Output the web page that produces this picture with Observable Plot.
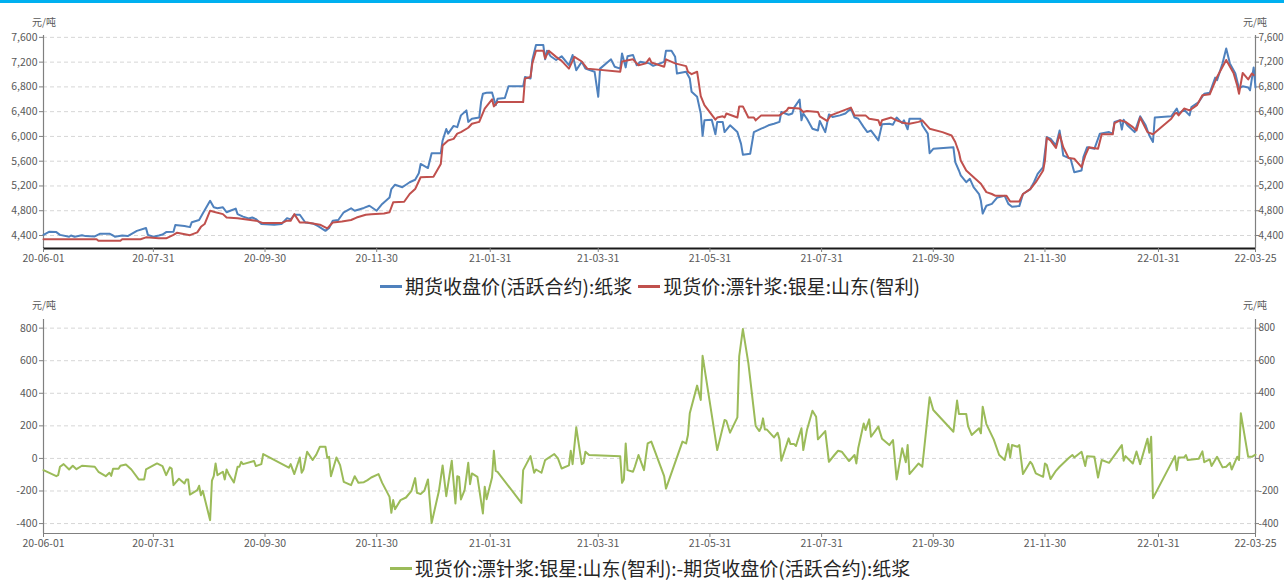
<!DOCTYPE html>
<html><head><meta charset="utf-8">
<script src="https://cdn.jsdelivr.net/npm/d3@7"></script>
<script src="https://cdn.jsdelivr.net/npm/@observablehq/plot@0.6"></script>
<style>
html,body{margin:0;padding:0;background:#fff;overflow:hidden;}
#root{position:relative;width:1284px;height:581px;overflow:hidden;font-family:"Noto Sans CJK SC","Noto Sans",sans-serif;}
.bar{position:absolute;left:0;top:0;width:1284px;height:3px;background:#00b0f0;}
.unit{position:absolute;font-size:10px;line-height:12px;color:#595959;}
.legend{position:absolute;left:0;width:1300px;height:22px;line-height:22px;display:flex;justify-content:center;align-items:center;font-size:19px;color:#262626;white-space:nowrap;}
.item{display:flex;align-items:center;margin:0 3px;}
.sw{display:inline-block;width:22px;height:3px;margin-right:3px;}
#top,#bottom{position:absolute;left:0;}
#top{top:0;} #bottom{top:290px;}
</style></head><body>
<div id="root">
  <div class="bar"></div>
  <div class="unit" style="left:32px;top:16px;">元/吨</div>
  <div class="unit" style="left:1243px;top:16px;">元/吨</div>
  <div id="top"></div>
  <div class="legend" id="legTop" style="top:275px;"></div>
  <div class="unit" style="left:32px;top:299px;">元/吨</div>
  <div class="unit" style="left:1243px;top:299px;">元/吨</div>
  <div id="bottom"></div>
  <div class="legend" id="legBottom" style="top:557px;"></div>
</div>
<script>
// ---------- data ----------
const seriesNames = ["期货收盘价(活跃合约):纸浆", "现货价:漂针浆:银星:山东(智利)", "现货价:漂针浆:银星:山东(智利):-期货收盘价(活跃合约):纸浆"];
const seriesColors = ["#4f81bd", "#c0504d", "#9bbb59"];
const xTickDates = ["2020-06-01","2020-07-31","2020-09-30","2020-11-30","2021-01-31","2021-03-31","2021-05-31","2021-07-31","2021-09-30","2021-11-30","2022-01-31","2022-03-25"];
const topYTicks = [4400,4800,5200,5600,6000,6400,6800,7200,7600];
const bottomYTicks = [-400,-200,0,200,400,600,800];
const topYDomain = [4190, 7630];
const bottomYDomain = [-461, 853];

const futDates = ["2020-06-01","2020-06-04","2020-06-08","2020-06-10","2020-06-15","2020-06-16","2020-06-18","2020-06-22","2020-06-24","2020-06-29","2020-07-02","2020-07-07","2020-07-09","2020-07-10","2020-07-14","2020-07-17","2020-07-22","2020-07-27","2020-07-28","2020-07-31","2020-08-03","2020-08-05","2020-08-07","2020-08-11","2020-08-12","2020-08-17","2020-08-20","2020-08-21","2020-08-25","2020-08-27","2020-08-31","2020-09-02","2020-09-04","2020-09-07","2020-09-09","2020-09-11","2020-09-14","2020-09-15","2020-09-18","2020-09-21","2020-09-23","2020-09-25","2020-09-28","2020-10-05","2020-10-09","2020-10-12","2020-10-14","2020-10-16","2020-10-19","2020-10-22","2020-10-26","2020-10-29","2020-11-02","2020-11-04","2020-11-06","2020-11-09","2020-11-12","2020-11-16","2020-11-18","2020-11-23","2020-11-26","2020-11-30","2020-12-03","2020-12-07","2020-12-08","2020-12-10","2020-12-14","2020-12-16","2020-12-18","2020-12-21","2020-12-23","2020-12-24","2020-12-28","2020-12-30","2021-01-04","2021-01-05","2021-01-07","2021-01-08","2021-01-11","2021-01-13","2021-01-15","2021-01-18","2021-01-19","2021-01-21","2021-01-25","2021-01-26","2021-01-27","2021-01-29","2021-02-01","2021-02-03","2021-02-04","2021-02-08","2021-02-10","2021-02-18","2021-02-19","2021-02-22","2021-02-23","2021-02-25","2021-03-01","2021-03-02","2021-03-03","2021-03-05","2021-03-08","2021-03-11","2021-03-15","2021-03-17","2021-03-19","2021-03-22","2021-03-24","2021-03-29","2021-03-31","2021-04-01","2021-04-07","2021-04-09","2021-04-12","2021-04-13","2021-04-15","2021-04-16","2021-04-19","2021-04-21","2021-04-23","2021-04-28","2021-04-30","2021-05-06","2021-05-07","2021-05-10","2021-05-12","2021-05-13","2021-05-18","2021-05-20","2021-05-21","2021-05-24","2021-05-26","2021-05-27","2021-05-28","2021-06-01","2021-06-03","2021-06-04","2021-06-07","2021-06-08","2021-06-11","2021-06-15","2021-06-17","2021-06-18","2021-06-22","2021-06-24","2021-06-28","2021-06-30","2021-07-02","2021-07-05","2021-07-08","2021-07-09","2021-07-13","2021-07-15","2021-07-16","2021-07-19","2021-07-20","2021-07-21","2021-07-23","2021-07-26","2021-07-29","2021-07-30","2021-08-02","2021-08-04","2021-08-06","2021-08-10","2021-08-13","2021-08-16","2021-08-18","2021-08-20","2021-08-23","2021-08-25","2021-08-27","2021-08-31","2021-09-02","2021-09-06","2021-09-08","2021-09-10","2021-09-13","2021-09-14","2021-09-16","2021-09-17","2021-09-23","2021-09-24","2021-09-27","2021-09-28","2021-09-30","2021-10-11","2021-10-12","2021-10-14","2021-10-15","2021-10-18","2021-10-20","2021-10-22","2021-10-25","2021-10-26","2021-10-27","2021-10-29","2021-11-01","2021-11-04","2021-11-08","2021-11-10","2021-11-12","2021-11-16","2021-11-18","2021-11-22","2021-11-24","2021-11-26","2021-11-29","2021-12-01","2021-12-03","2021-12-06","2021-12-08","2021-12-09","2021-12-10","2021-12-14","2021-12-16","2021-12-20","2021-12-21","2021-12-23","2021-12-27","2021-12-30","2022-01-04","2022-01-06","2022-01-07","2022-01-10","2022-01-11","2022-01-12","2022-01-14","2022-01-18","2022-01-21","2022-01-24","2022-01-26","2022-01-28","2022-01-29","2022-02-07","2022-02-10","2022-02-11","2022-02-14","2022-02-17","2022-02-18","2022-02-22","2022-02-25","2022-02-28","2022-03-03","2022-03-04","2022-03-07","2022-03-09","2022-03-11","2022-03-14","2022-03-16","2022-03-18","2022-03-21","2022-03-22","2022-03-24","2022-03-25"];
const futValues = [4410,4460,4455,4410,4380,4400,4380,4405,4390,4385,4430,4430,4400,4380,4400,4390,4475,4520,4410,4380,4400,4415,4455,4460,4570,4555,4535,4615,4650,4755,4960,4855,4840,4855,4775,4800,4835,4745,4705,4675,4690,4665,4585,4575,4585,4680,4660,4735,4735,4610,4595,4550,4475,4520,4640,4650,4775,4840,4800,4845,4880,4800,4910,5015,5150,5220,5180,5220,5260,5300,5405,5555,5490,5730,5730,5935,6120,6045,6170,6150,6340,6420,6235,6285,6305,6555,6690,6705,6710,6505,6610,6620,6810,6810,6960,6935,7235,7475,7475,7245,7385,7295,7235,7295,7150,7315,7070,7205,7095,7045,6640,7095,7245,7125,7095,7340,7115,7295,7315,7150,7205,7180,7140,7205,7385,7385,7285,7015,7045,6935,6720,6640,6370,6010,6260,6270,6035,6235,6235,6070,6180,6070,5880,5705,5720,6070,6125,6150,6180,6205,6235,6395,6350,6370,6465,6595,6260,6370,6285,6125,6095,6250,6070,6355,6315,6340,6370,6450,6305,6285,6150,6070,6095,5935,6195,6205,6190,6305,6215,6260,6115,6285,6285,6180,6045,5730,5800,5825,5585,5450,5370,5260,5315,5180,5070,4960,4755,4880,4910,5015,5040,4910,4865,4875,5070,5150,5260,5395,5505,5990,5965,5855,6095,5910,5690,5640,5420,5450,5665,5825,5800,6045,6070,6045,6235,6260,6110,6270,6180,6070,6325,6180,6015,5910,6305,6325,6450,6370,6430,6340,6475,6555,6690,6705,6950,6910,7180,7420,7180,7015,6775,6810,6790,6745,7115,6790];

const spotDates = ["2020-06-01","2020-06-30","2020-07-01","2020-07-13","2020-07-14","2020-07-24","2020-07-27","2020-08-03","2020-08-07","2020-08-11","2020-08-13","2020-08-20","2020-08-24","2020-08-26","2020-08-28","2020-08-31","2020-09-03","2020-09-07","2020-09-09","2020-09-15","2020-09-25","2020-09-29","2020-10-09","2020-10-12","2020-10-14","2020-10-16","2020-10-19","2020-10-23","2020-10-30","2020-11-03","2020-11-06","2020-11-11","2020-11-16","2020-11-19","2020-11-24","2020-11-27","2020-12-04","2020-12-07","2020-12-09","2020-12-15","2020-12-18","2020-12-21","2020-12-24","2020-12-31","2021-01-04","2021-01-05","2021-01-08","2021-01-11","2021-01-13","2021-01-15","2021-01-19","2021-01-21","2021-01-25","2021-01-28","2021-02-01","2021-02-02","2021-02-04","2021-02-18","2021-02-19","2021-02-22","2021-02-23","2021-02-25","2021-03-01","2021-03-02","2021-03-04","2021-03-08","2021-03-11","2021-03-15","2021-03-18","2021-03-22","2021-03-25","2021-04-12","2021-04-13","2021-04-19","2021-04-22","2021-04-26","2021-04-28","2021-04-29","2021-05-06","2021-05-07","2021-05-12","2021-05-18","2021-05-19","2021-05-21","2021-05-24","2021-05-26","2021-05-28","2021-06-03","2021-06-04","2021-06-07","2021-06-08","2021-06-09","2021-06-15","2021-06-16","2021-06-18","2021-06-21","2021-06-24","2021-06-25","2021-06-28","2021-07-08","2021-07-12","2021-07-13","2021-07-19","2021-07-21","2021-07-23","2021-07-29","2021-07-30","2021-08-03","2021-08-05","2021-08-16","2021-08-18","2021-08-24","2021-08-26","2021-08-31","2021-09-01","2021-09-02","2021-09-07","2021-09-10","2021-09-14","2021-09-17","2021-09-22","2021-09-24","2021-09-28","2021-10-05","2021-10-10","2021-10-12","2021-10-14","2021-10-15","2021-10-18","2021-10-21","2021-10-26","2021-10-29","2021-11-01","2021-11-03","2021-11-09","2021-11-11","2021-11-16","2021-11-18","2021-11-22","2021-11-25","2021-11-29","2021-11-30","2021-12-01","2021-12-03","2021-12-06","2021-12-08","2021-12-10","2021-12-13","2021-12-16","2021-12-20","2021-12-22","2021-12-24","2021-12-29","2021-12-31","2022-01-06","2022-01-07","2022-01-10","2022-01-13","2022-01-17","2022-01-19","2022-01-21","2022-01-25","2022-01-28","2022-02-07","2022-02-09","2022-02-10","2022-02-11","2022-02-14","2022-02-17","2022-02-21","2022-02-24","2022-02-28","2022-03-04","2022-03-09","2022-03-13","2022-03-15","2022-03-16","2022-03-18","2022-03-21","2022-03-23","2022-03-24"];
const spotValues = [4340,4340,4315,4315,4340,4340,4370,4355,4355,4410,4445,4405,4450,4540,4585,4800,4775,4745,4690,4680,4640,4600,4600,4640,4640,4745,4610,4610,4575,4515,4610,4625,4650,4690,4735,4745,4755,4775,4935,4945,5070,5150,5340,5350,5555,5855,5935,5960,6045,6070,6140,6205,6235,6450,6600,6485,6555,6555,6935,6960,7180,7385,7385,7260,7385,7285,7220,7095,7285,7210,7095,7045,7210,7245,7150,7180,7260,7195,7125,7245,7180,7135,7045,7005,7045,6650,6505,6270,6305,6325,6305,6370,6305,6485,6485,6305,6305,6260,6340,6340,6420,6465,6450,6395,6410,6395,6325,6250,6340,6465,6340,6340,6285,6260,6180,6260,6305,6260,6215,6205,6235,6260,6125,6070,6015,5910,5745,5610,5450,5370,5235,5100,5070,5040,5040,4950,4950,5070,5150,5260,5450,5610,5980,5935,5815,6035,5825,5650,5640,5505,5690,5825,5800,6035,6035,6215,6260,6235,6150,6095,6305,6070,6035,6285,6370,6380,6340,6450,6420,6505,6665,6680,6960,7235,7025,6825,6690,7025,6920,7015,6990];

const spreadDates = ["2020-06-01","2020-06-08","2020-06-09","2020-06-10","2020-06-12","2020-06-15","2020-06-17","2020-06-19","2020-06-22","2020-06-29","2020-07-01","2020-07-05","2020-07-07","2020-07-08","2020-07-09","2020-07-12","2020-07-13","2020-07-16","2020-07-19","2020-07-23","2020-07-26","2020-07-27","2020-08-02","2020-08-05","2020-08-07","2020-08-09","2020-08-10","2020-08-11","2020-08-14","2020-08-17","2020-08-18","2020-08-19","2020-08-20","2020-08-24","2020-08-25","2020-08-26","2020-08-27","2020-08-31","2020-09-01","2020-09-02","2020-09-03","2020-09-04","2020-09-07","2020-09-08","2020-09-09","2020-09-10","2020-09-13","2020-09-15","2020-09-16","2020-09-17","2020-09-18","2020-09-24","2020-09-25","2020-09-28","2020-09-29","2020-10-13","2020-10-14","2020-10-16","2020-10-19","2020-10-20","2020-10-21","2020-10-23","2020-10-26","2020-10-28","2020-10-30","2020-11-02","2020-11-03","2020-11-04","2020-11-05","2020-11-08","2020-11-10","2020-11-12","2020-11-16","2020-11-18","2020-11-20","2020-11-23","2020-11-25","2020-11-27","2020-12-01","2020-12-03","2020-12-07","2020-12-08","2020-12-09","2020-12-10","2020-12-13","2020-12-16","2020-12-19","2020-12-21","2020-12-22","2020-12-24","2020-12-26","2020-12-28","2020-12-30","2021-01-03","2021-01-05","2021-01-07","2021-01-10","2021-01-12","2021-01-13","2021-01-14","2021-01-15","2021-01-17","2021-01-19","2021-01-20","2021-01-21","2021-01-24","2021-01-27","2021-01-28","2021-01-29","2021-02-01","2021-02-02","2021-02-03","2021-02-04","2021-02-17","2021-02-18","2021-02-22","2021-02-24","2021-02-25","2021-02-28","2021-03-02","2021-03-07","2021-03-09","2021-03-11","2021-03-15","2021-03-16","2021-03-17","2021-03-19","2021-03-22","2021-03-23","2021-03-24","2021-03-26","2021-04-12","2021-04-13","2021-04-14","2021-04-15","2021-04-16","2021-04-19","2021-04-20","2021-04-22","2021-04-24","2021-04-25","2021-04-27","2021-04-29","2021-05-06","2021-05-07","2021-05-16","2021-05-18","2021-05-19","2021-05-20","2021-05-24","2021-05-26","2021-05-27","2021-06-04","2021-06-08","2021-06-09","2021-06-11","2021-06-15","2021-06-16","2021-06-18","2021-06-21","2021-06-25","2021-06-27","2021-06-28","2021-06-29","2021-06-30","2021-07-01","2021-07-05","2021-07-07","2021-07-08","2021-07-09","2021-07-13","2021-07-14","2021-07-16","2021-07-17","2021-07-20","2021-07-21","2021-07-23","2021-07-26","2021-07-28","2021-07-29","2021-08-02","2021-08-04","2021-08-07","2021-08-09","2021-08-11","2021-08-15","2021-08-18","2021-08-19","2021-08-20","2021-08-23","2021-08-24","2021-08-26","2021-08-27","2021-08-31","2021-09-02","2021-09-06","2021-09-08","2021-09-10","2021-09-13","2021-09-15","2021-09-16","2021-09-17","2021-09-22","2021-09-24","2021-09-28","2021-09-30","2021-10-11","2021-10-13","2021-10-14","2021-10-18","2021-10-19","2021-10-21","2021-10-25","2021-10-26","2021-10-27","2021-10-29","2021-11-02","2021-11-05","2021-11-08","2021-11-10","2021-11-11","2021-11-12","2021-11-15","2021-11-16","2021-11-18","2021-11-22","2021-11-23","2021-11-25","2021-11-29","2021-11-30","2021-12-01","2021-12-03","2021-12-06","2021-12-08","2021-12-13","2021-12-15","2021-12-16","2021-12-20","2021-12-22","2021-12-23","2021-12-27","2021-12-29","2021-12-31","2022-01-04","2022-01-11","2022-01-12","2022-01-13","2022-01-17","2022-01-19","2022-01-21","2022-01-25","2022-01-26","2022-01-27","2022-01-28","2022-02-09","2022-02-10","2022-02-11","2022-02-14","2022-02-15","2022-02-16","2022-02-22","2022-02-24","2022-02-25","2022-02-28","2022-03-01","2022-03-04","2022-03-07","2022-03-09","2022-03-11","2022-03-12","2022-03-15","2022-03-16","2022-03-17","2022-03-21","2022-03-23","2022-03-25"];
const spreadValues = [-72,-109,-103,-51,-35,-68,-45,-66,-45,-51,-82,-109,-88,-107,-64,-64,-45,-37,-68,-129,-129,-68,-31,-47,-103,-55,-62,-164,-125,-154,-129,-129,-222,-195,-168,-226,-199,-379,-137,-109,-31,-103,-82,-129,-68,-92,-148,-51,-51,-21,-35,-16,-47,-35,27,-57,-35,-96,6,-88,-68,41,-10,23,72,72,4,10,-109,6,-41,-144,-164,-109,-150,-146,-133,-117,-96,-150,-236,-334,-256,-312,-256,-240,-199,-121,-211,-219,-199,-129,-396,-199,-43,-232,-14,-277,-109,-113,-252,-195,-27,-158,-92,-113,-338,-174,-250,-117,47,-76,-82,-273,-72,14,-88,-68,-88,-10,27,0,-62,-43,47,-35,191,-35,-27,41,21,14,-150,-129,92,-72,-82,-51,21,-41,-72,92,103,-109,-185,103,92,144,277,447,359,630,51,236,230,158,252,626,794,585,199,168,191,246,178,178,129,158,117,-14,123,88,88,76,185,51,174,293,256,117,168,-21,21,47,41,-16,21,-31,62,215,174,240,133,195,121,82,113,-129,62,-23,82,-96,-31,-51,375,297,164,355,273,273,199,144,185,154,318,211,117,21,-10,88,6,82,72,82,-96,-21,-35,-92,-113,-31,-41,-127,-76,-51,2,21,6,41,-47,14,10,-117,-10,-27,82,-14,14,-31,43,-35,121,35,133,-244,14,-72,6,6,21,-10,-2,43,-23,-6,-47,10,-55,-51,-27,-68,10,-10,277,10,10,23];

// ---------- drawing ----------
const parse = d3.utcParse("%Y-%m-%d");
const xDomain = [parse(xTickDates[0]), parse(xTickDates[xTickDates.length - 1])];
const xTicks = xTickDates.map(parse);
const toRows = (dates, values) => dates.map((d, i) => ({date: parse(d), value: values[i]}));
const fut = toRows(futDates, futValues);
const spot = toRows(spotDates, spotValues);
const spread = toRows(spreadDates, spreadValues);
const fontFamily = '"Noto Sans CJK SC","Noto Sans",sans-serif';

function makeChart({height, marginTop, marginBottom, yDomain, yTicks, yFormat, lines, baseStroke, baseWidth}) {
  return Plot.plot({
    width: 1284, height, marginTop, marginBottom, marginLeft: 43, marginRight: 29,
    x: {type: "utc", domain: xDomain},
    y: {domain: yDomain},
    style: {fontFamily, fontSize: "10.5px", color: "#595959", background: "transparent", overflow: "visible"},
    marks: [
      Plot.gridY(yTicks, {stroke: "#d6d6d6", strokeOpacity: 1, strokeDasharray: "4,3"}),
      Plot.ruleX([xDomain[0]], {stroke: "#808080", strokeWidth: 1.2}),
      Plot.ruleX([xDomain[1]], {stroke: "#808080", strokeWidth: 1.2}),
      ...lines.map(l => Plot.lineY(l.data, {x: "date", y: "value", stroke: l.color, strokeWidth: 2})),
      Plot.ruleY([yDomain[0]], {stroke: baseStroke, strokeWidth: baseWidth}),
      Plot.axisY(yTicks, {anchor: "left", tickSize: 4, tickPadding: 2, tickFormat: yFormat, stroke: "#808080", fill: "#595959", label: null}),
      Plot.axisY(yTicks, {anchor: "right", tickSize: 3, tickPadding: 0, tickFormat: yFormat, stroke: "#808080", fill: "#595959", fontSize: 10, label: null}),
      Plot.axisX(xTicks, {tickSize: 4, tickPadding: 2, tickFormat: d3.utcFormat("%y-%m-%d"), stroke: "#808080", fill: "#595959", label: null})
    ]
  });
}

document.getElementById("top").append(makeChart({
  height: 270, marginTop: 35, marginBottom: 22,
  yDomain: topYDomain, yTicks: topYTicks, yFormat: d3.format(","),
  lines: [{data: fut, color: seriesColors[0]}, {data: spot, color: seriesColors[1]}],
  baseStroke: "#1a1a1a", baseWidth: 2
}));
document.getElementById("bottom").append(makeChart({
  height: 270, marginTop: 29, marginBottom: 27,
  yDomain: bottomYDomain, yTicks: bottomYTicks, yFormat: d => String(d),
  lines: [{data: spread, color: seriesColors[2]}],
  baseStroke: "#808080", baseWidth: 1.2
}));

function legend(el, idx) {
  const node = document.getElementById(el);
  idx.forEach(i => {
    const item = document.createElement("span");
    item.className = "item";
    const sw = document.createElement("span");
    sw.className = "sw";
    sw.style.background = seriesColors[i];
    const t = document.createElement("span");
    t.textContent = seriesNames[i];
    item.append(sw, t);
    node.append(item);
  });
}
legend("legTop", [0, 1]);
legend("legBottom", [2]);
</script>
</body></html>
